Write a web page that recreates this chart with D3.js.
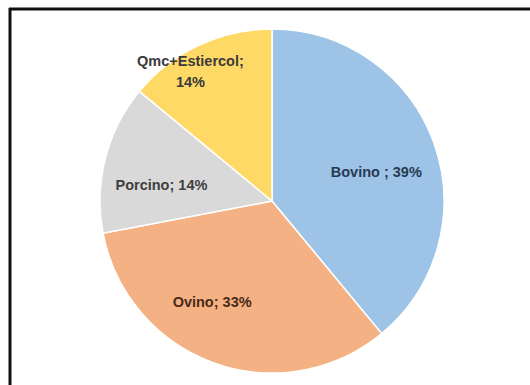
<!DOCTYPE html>
<html>
<head>
<meta charset="utf-8">
<script src="https://cdn.jsdelivr.net/npm/d3@7"></script>
<style>
  body { margin: 0; background: #fff; }
</style>
</head>
<body>
<svg id="chart"></svg>
<script>
const width = 530;
const height = 385;

const categories = ['Bovino', 'Ovino', 'Porcino', 'Qmc+Estiercol'];
const values = [39, 33, 14, 14];
const labels = [['Bovino ; 39%'], ['Ovino; 33%'], ['Porcino; 14%'], ['Qmc+Estiercol;', '14%']];
const colors = ['#9dc3e6', '#f4b183', '#d9d9d9', '#ffd966'];
const labelColors = ['#283a52', '#4b2a18', '#3f3f3f', '#3a3a3a'];

const svg = d3.select('#chart')
    .attr('width', width)
    .attr('height', height);

// frame (only top and left edges show)
svg.append('line')
    .attr('x1', 9).attr('y1', 9).attr('x2', width).attr('y2', 9)
    .attr('stroke', '#111').attr('stroke-width', 3);
svg.append('line')
    .attr('x1', 10).attr('y1', 8).attr('x2', 10).attr('y2', height)
    .attr('stroke', '#111').attr('stroke-width', 3);

const cx = 272, cy = 201, radius = 172;

const pie = d3.pie().sort(null).value(d => d);
const arcs = pie(values);
const arc = d3.arc().innerRadius(0).outerRadius(radius);

// label placement: radius fraction and angle nudge (deg), like Excel's best fit
const labelR = [0.63, 0.68, 0.65, 0.89];
const labelNudge = [4, 11, -6, -7];

const g = svg.append('g').attr('transform', `translate(${cx},${cy})`);

g.selectAll('path')
    .data(arcs)
    .enter()
    .append('path')
    .attr('d', arc)
    .attr('fill', (d, i) => colors[i])
    .attr('stroke', '#fff')
    .attr('stroke-width', 1.5);

const text = g.selectAll('text')
    .data(arcs)
    .enter()
    .append('text')
    .attr('transform', (d, i) => {
        const a = (d.startAngle + d.endAngle) / 2 + labelNudge[i] * Math.PI / 180;
        const r = radius * labelR[i];
        return `translate(${r * Math.sin(a)},${-r * Math.cos(a)})`;
    })
    .attr('text-anchor', 'middle')
    .attr('font-family', 'Liberation Sans, Arial, sans-serif')
    .attr('font-weight', 'bold')
    .attr('font-size', 14.5)
    .attr('fill', (d, i) => labelColors[i]);

text.each(function(d, i) {
    const lines = labels[i];
    const t = d3.select(this);
    lines.forEach((s, k) => {
        t.append('tspan')
            .attr('x', 0)
            .attr('dy', k === 0 ? `${0.35 - (lines.length - 1) * 0.75}em` : '1.5em')
            .text(s);
    });
});
</script>
</body>
</html>
